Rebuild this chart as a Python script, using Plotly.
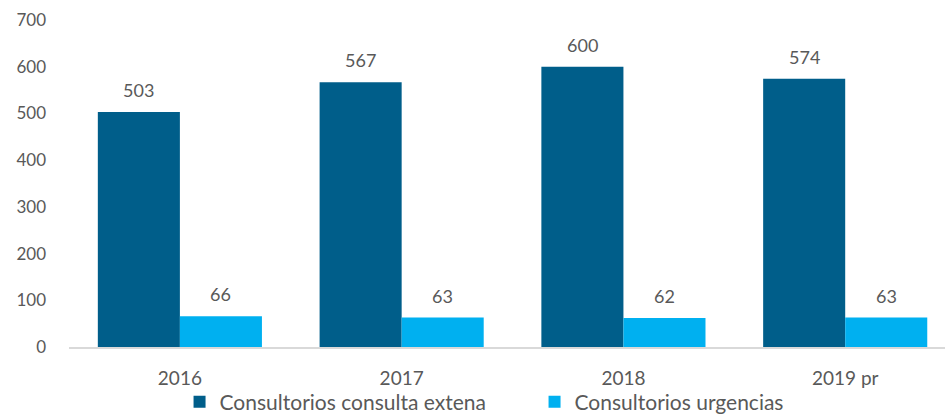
import plotly.graph_objects as go

categories = ["2016", "2017", "2018", "2019 pr"]
externa = [503, 567, 600, 574]
urgencias = [66, 63, 62, 63]
series_names = ["Consultorios consulta extena", "Consultorios urgencias"]
colors = ["#005E8A", "#00B0F0"]

FONT = "Lato, 'Open Sans', sans-serif"
GRAY = "#595959"

fig = go.Figure()
for name, vals, col in zip(series_names, [externa, urgencias], colors):
    fig.add_trace(go.Bar(x=categories, y=vals, name=name, marker=dict(color=col, line=dict(width=0))))

annotations = []
for vals, shift in [(externa, -41), (urgencias, 41)]:
    for i, v in enumerate(vals):
        annotations.append(dict(x=i, y=v, xref="x", yref="y", text=str(v), showarrow=False,
                                xshift=shift, yshift=22, font=dict(family=FONT, size=18, color=GRAY)))

fig.update_layout(
    width=945, height=417,
    margin=dict(l=69, r=0, t=20, b=70, autoexpand=False),
    paper_bgcolor="white", plot_bgcolor="white",
    barmode="group", bargap=0.26, bargroupgap=0,
    font=dict(family=FONT, color=GRAY, size=16),
    showlegend=True,
    legend=dict(orientation="h", xref="container", x=0.19, xanchor="left",
                yref="container", y=0.036, yanchor="middle", bgcolor="rgba(0,0,0,0)",
                entrywidth=310, entrywidthmode="pixels",
                font=dict(family=FONT, size=21, color=GRAY), tracegroupgap=0),
    annotations=annotations,
    xaxis=dict(type="category", range=[-0.5, 3.45], showline=True, linecolor="#D9D9D9", linewidth=2,
               ticks="", showgrid=False, tickfont=dict(size=19, color=GRAY), ticklabelstandoff=13,
               automargin=False),
    yaxis=dict(range=[0, 700], dtick=100, showgrid=False, zeroline=False, showline=False,
               ticks="", tickfont=dict(size=17, color=GRAY), ticklabelstandoff=22, automargin=False),
)

fig.write_html("out.html", post_script="document.body.style.margin='0';",
               config={"displayModeBar": False})
